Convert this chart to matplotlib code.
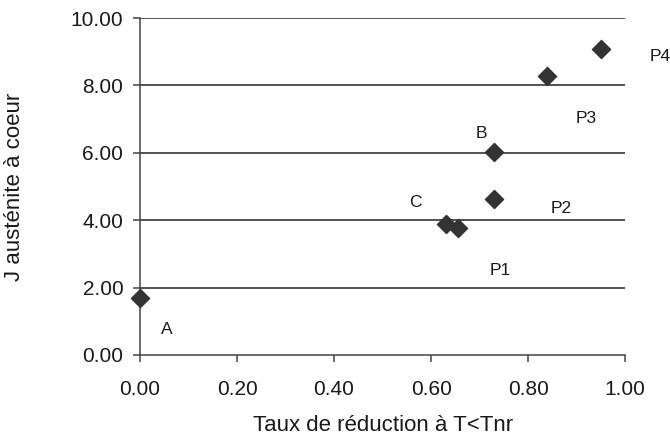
import matplotlib
matplotlib.use("Agg")
import matplotlib.pyplot as plt

# values
taux = [0.0, 0.63, 0.655, 0.73, 0.73, 0.84, 0.95]
austenite = [1.68, 3.88, 3.78, 4.62, 6.02, 8.27, 9.07]

labels = ['A', 'B', 'C', 'P1', 'P2', 'P3', 'P4']
label_x = [0.055, 0.704, 0.567, 0.743, 0.869, 0.919, 1.073]
label_y = [0.76, 6.57, 4.53, 2.51, 4.36, 7.02, 8.87]

x_ticks = [0.0, 0.2, 0.4, 0.6, 0.8, 1.0]
y_ticks = [0, 2, 4, 6, 8, 10]


def draw_chart(filename):
    plt.rcParams['font.family'] = ['Liberation Sans', 'DejaVu Sans']
    fig = plt.figure(figsize=(6.7, 4.42), dpi=100)
    ax = fig.add_axes([0.209, 0.197, 0.724, 0.762])
    text_color = '#1a1a1a'

    for y in y_ticks[1:]:
        ax.axhline(y, color='#222222', linewidth=1.1, zorder=1)

    ax.scatter(taux, austenite, marker='D', s=85, color='#333333', zorder=3, clip_on=False)

    for lab, lx, ly in zip(labels, label_x, label_y):
        ax.text(lx, ly, lab, fontsize=12.5, color=text_color, ha='center', va='center',
                clip_on=False)

    ax.set_xlim(0, 1)
    ax.set_ylim(0, 10)
    ax.set_xticks(x_ticks)
    ax.set_yticks(y_ticks)
    ax.set_xticklabels(['%.2f' % v for v in x_ticks])
    ax.set_yticklabels(['%.2f' % v for v in y_ticks])

    for side in ['top', 'right']:
        ax.spines[side].set_visible(False)
    for side in ['left', 'bottom']:
        ax.spines[side].set_color('#444444')
        ax.spines[side].set_linewidth(1.1)

    ax.tick_params(direction='out', length=5, width=1.1, color='#444444',
                   labelsize=15, labelcolor=text_color)
    ax.tick_params(axis='x', pad=13)
    ax.tick_params(axis='y', pad=7)

    ax.set_xlabel('Taux de réduction à T<Tnr', fontsize=16, color=text_color)
    ax.set_ylabel('J austénite à coeur', fontsize=16, color=text_color)
    ax.xaxis.set_label_coords(0.5, -0.178)
    ax.yaxis.set_label_coords(-0.237, 0.5)

    fig.savefig(filename, dpi=100)


if __name__ == "__main__":
    draw_chart('out.png')
